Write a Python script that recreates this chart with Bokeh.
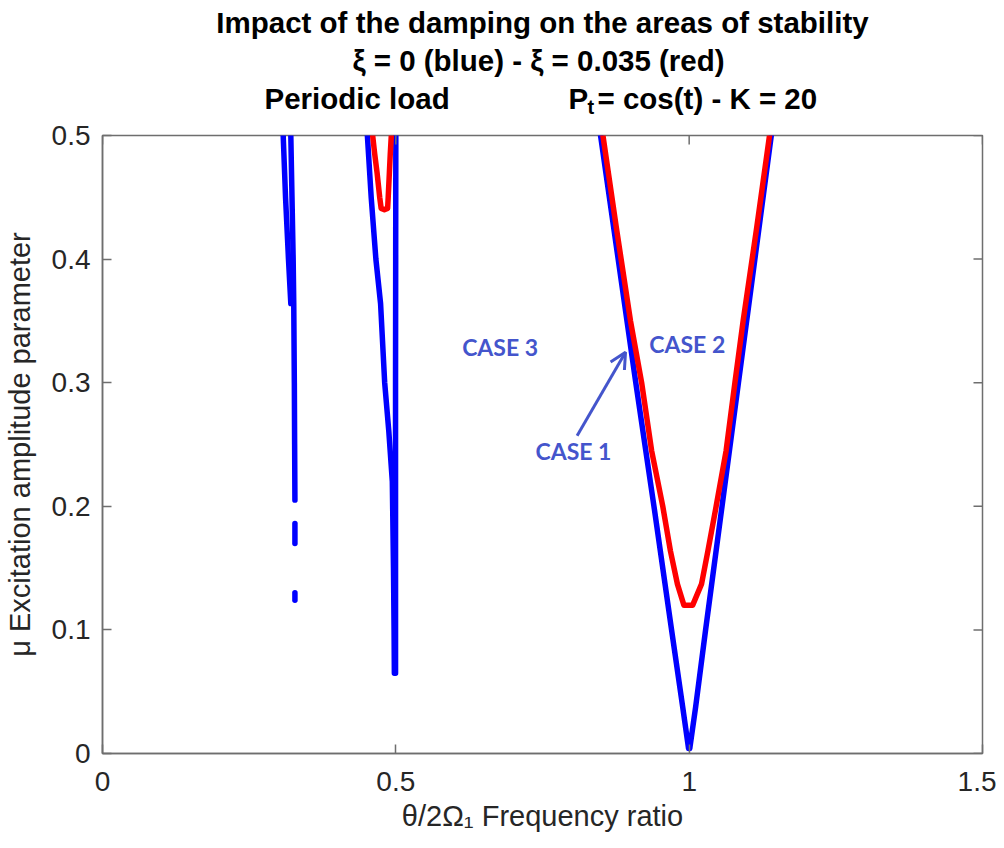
import math
from bokeh.plotting import figure
from bokeh.layouts import column
from bokeh.models import Label, Arrow, OpenHead, FixedTicker, Range1d
from bokeh.core.properties import value
from bokeh.embed import file_html
from bokeh.resources import INLINE

# ---------------- data ----------------
x_ticks = [0, 0.5, 1, 1.5]
x_tick_labels = ["0", "0.5", "1", "1.5"]
y_ticks = [0, 0.1, 0.2, 0.3, 0.4, 0.5]
y_tick_labels = ["0", "0.1", "0.2", "0.3", "0.4", "0.5"]

# xi = 0 (blue) instability boundaries: frequency ratio (x) vs mu
blue_r3_left_x = [0.308, 0.312, 0.317, 0.321]
blue_r3_left_mu = [0.5, 0.45, 0.40, 0.364]
blue_r3_right_x = [0.321, 0.323, 0.325, 0.326, 0.327, 0.3275, 0.328]
blue_r3_right_mu = [0.5, 0.45, 0.40, 0.364, 0.30, 0.25, 0.205]
blue_r3_pts1_x = [0.328, 0.328]
blue_r3_pts1_mu = [0.186, 0.170]
blue_r3_pts2_x = [0.328, 0.328]
blue_r3_pts2_mu = [0.130, 0.124]
blue_r2_left_x = [0.4515, 0.458, 0.466, 0.474, 0.481, 0.488, 0.494, 0.496, 0.497, 0.4975]
blue_r2_left_mu = [0.5, 0.45, 0.40, 0.364, 0.30, 0.261, 0.22, 0.15, 0.10, 0.065]
blue_r2_right_x = [0.500, 0.4995, 0.4995]
blue_r2_right_mu = [0.5, 0.30, 0.065]
blue_r1_x = [0.849, 0.879, 0.909, 0.940, 0.970, 0.989, 0.999,
             1.001, 1.011, 1.028, 1.056, 1.084, 1.112, 1.140]
blue_r1_mu = [0.5, 0.40, 0.30, 0.20, 0.10, 0.0375, 0.004,
              0.004, 0.0375, 0.10, 0.20, 0.30, 0.40, 0.5]

# xi = 0.035 (red) instability boundaries
red_r2_x = [0.4605, 0.464, 0.468, 0.4725, 0.475, 0.4805, 0.486, 0.487, 0.489, 0.4905, 0.4923]
red_r2_mu = [0.5, 0.485, 0.47, 0.45, 0.441, 0.440, 0.441, 0.45, 0.47, 0.485, 0.5]
red_r1_x = [0.853, 0.876, 0.900, 0.919, 0.936, 0.955, 0.968, 0.980, 0.991,
            1.006, 1.021, 1.032, 1.046, 1.063, 1.078, 1.092, 1.115, 1.137]
red_r1_mu = [0.5, 0.425, 0.35, 0.30, 0.245, 0.20, 0.164, 0.137, 0.12,
             0.12, 0.137, 0.164, 0.20, 0.245, 0.30, 0.35, 0.425, 0.5]

# annotations
case_texts = ["CASE 3", "CASE 2", "CASE 1"]
case_x = [0.613, 0.932, 0.738]
case_mu = [0.329, 0.331, 0.245]
arrow_start = (0.809, 0.257)
arrow_end = (0.8915, 0.3247)

title_line1 = "Impact of the damping on the areas of stability"
title_line2 = "ξ = 0 (blue) - ξ = 0.035 (red)"
title_line3a = "Periodic load"
title_line3b = "P"
title_line3_sub = "t"
title_line3c = "= cos(t) - K = 20"

# ---------------- layout constants ----------------
AX = "#6e6e6e"
TXT = "#262626"
FONT = "Liberation Sans"
FRAME_W = 880
LEFT_B = 92
RIGHT_B = 14
TITLE_H = 119

# ---------------- title strip (its frame is aligned with the plot frame) ----------------
tf = figure(frame_width=FRAME_W, frame_height=TITLE_H,
            x_range=Range1d(100, 100 + FRAME_W), y_range=Range1d(TITLE_H, 0),
            x_axis_type=None, y_axis_type=None, output_backend="svg", toolbar_location=None,
            min_border_left=LEFT_B, min_border_right=RIGHT_B, min_border_top=0,
            min_border_bottom=0)
tf.outline_line_color = None
tf.grid.visible = False
tkw = dict(text_font=value(FONT), text_font_style="bold", text_color="black",
           text_baseline="alphabetic")
TS = "29.5px"
tf.text(x=[540], y=[22], text=[title_line1], text_align="center", text_font_size=TS, **tkw)
tf.text(x=[536], y=[60], text=[title_line2], text_align="center", text_font_size=TS, **tkw)
tf.text(x=[262], y=[98], text=[title_line3a], text_align="left", text_font_size=TS, **tkw)
tf.text(x=[566], y=[98], text=[title_line3b], text_align="left", text_font_size=TS, **tkw)
tf.text(x=[585], y=[106], text=[title_line3_sub], text_align="left", text_font_size="20px", **tkw)
tf.text(x=[595], y=[98], text=[title_line3c], text_align="left", text_font_size=TS, **tkw)

# ---------------- main plot ----------------
p = figure(frame_width=FRAME_W, frame_height=618,
           x_range=Range1d(x_ticks[0], x_ticks[-1]), y_range=Range1d(y_ticks[0], y_ticks[-1]),
           output_backend="svg", toolbar_location=None,
           min_border_left=LEFT_B, min_border_top=16,
           min_border_right=RIGHT_B, min_border_bottom=80)
p.background_fill_color = "white"
p.border_fill_color = "white"
p.outline_line_color = AX
p.outline_line_width = 1.5
p.xgrid.visible = False
p.ygrid.visible = False

blue_xs = [blue_r3_left_x, blue_r3_right_x, blue_r3_pts1_x, blue_r3_pts2_x,
           blue_r2_left_x, blue_r2_right_x, blue_r1_x]
blue_ys = [blue_r3_left_mu, blue_r3_right_mu, blue_r3_pts1_mu, blue_r3_pts2_mu,
           blue_r2_left_mu, blue_r2_right_mu, blue_r1_mu]
p.multi_line(blue_xs, blue_ys, line_color="#0000ff", line_width=5.5,
             line_cap="round", line_join="round")
p.multi_line([red_r2_x, red_r1_x], [red_r2_mu, red_r1_mu], line_color="#ff0000",
             line_width=5.5, line_cap="round", line_join="round")

# mirrored inward ticks on the top and right edges of the box
p.scatter(x=x_ticks, y=[y_ticks[-1]] * len(x_ticks), marker="dash", size=18,
          angle=math.pi / 2, line_color=AX, line_width=1.5)
p.scatter(x=[x_ticks[-1]] * len(y_ticks), y=y_ticks, marker="dash", size=18,
          line_color=AX, line_width=1.5)

for ax, ticks, labels in ((p.xaxis[0], x_ticks, x_tick_labels), (p.yaxis[0], y_ticks, y_tick_labels)):
    ax.ticker = FixedTicker(ticks=ticks)
    ax.major_label_overrides = dict(zip(ticks, labels))
    ax.axis_line_color = AX
    ax.axis_line_width = 1.5
    ax.major_tick_line_color = AX
    ax.major_tick_line_width = 1.5
    ax.major_tick_in = 9
    ax.major_tick_out = 0
    ax.minor_tick_line_color = None
    ax.major_label_text_font = FONT
    ax.major_label_text_color = TXT
    ax.major_label_text_font_size = "28px"
    ax.axis_label_text_font = FONT
    ax.axis_label_text_font_style = "normal"
    ax.axis_label_text_color = TXT
    ax.axis_label_text_font_size = "29px"

p.xaxis.major_label_standoff = 18
p.yaxis.major_label_standoff = 12
p.xaxis.axis_label = "θ/2Ω₁ Frequency ratio"
p.yaxis.axis_label = "μ Excitation amplitude parameter"
p.xaxis.axis_label_standoff = 6
p.yaxis.axis_label_standoff = 13

CASE_C = "#4455cc"
for t, cx, cy in zip(case_texts, case_x, case_mu):
    p.add_layout(Label(x=cx, y=cy, text=t, text_font="Lato", text_font_style="bold",
                       text_font_size="23px", text_color=CASE_C, text_baseline="middle",
                       text_align="left"))

p.add_layout(Arrow(end=OpenHead(size=16, line_color=CASE_C, line_width=3),
                   x_start=arrow_start[0], y_start=arrow_start[1],
                   x_end=arrow_end[0], y_end=arrow_end[1],
                   line_color=CASE_C, line_width=3))

layout = column(tf, p, spacing=0)
open("out.html", "w").write(file_html(layout, INLINE))
